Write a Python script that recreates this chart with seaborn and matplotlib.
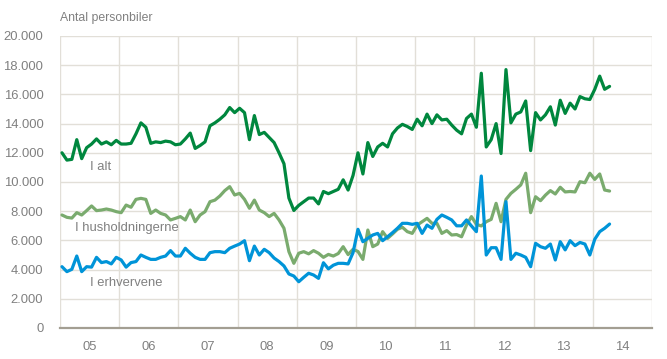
import numpy as np
import pandas as pd
import matplotlib
matplotlib.use("Agg")
import matplotlib.pyplot as plt
import seaborn as sns
from matplotlib.ticker import FuncFormatter, FixedLocator

# Monthly registrations, Jan 2005 - Apr 2014
i_alt = [
    12000, 11500, 11550, 12900, 11600, 12350, 12600, 12950, 12600, 12750, 12550, 12850,
    12600, 12600, 12650, 13300, 14050, 13750, 12650, 12750, 12700, 12800, 12750, 12550,
    12600, 12950, 13350, 12300, 12500, 12750, 13850, 14050, 14300, 14600, 15100, 14750,
    15050, 14750, 12900, 14550, 13250, 13400, 13050, 12700, 12000, 11250, 8900, 8050,
    8400, 8650, 8900, 8900, 8500, 9350, 9200, 9350, 9500, 10150, 9450, 10450,
    12000, 10550, 12700, 11750, 12400, 12650, 12400, 13300, 13700, 13950, 13800, 13600,
    14300, 13850, 14650, 14000, 14600, 14250, 14300, 13900, 13550, 13300, 14350, 14650,
    13750, 17450, 12400, 12900, 14000, 11950, 17700, 14050, 14650, 14800, 15550, 12150,
    14750, 14250, 14600, 15150, 13900, 15600, 14700, 15400, 15000, 15850, 15700, 15650,
    16350, 17250, 16350, 16550,
]
husholdninger = [
    7740, 7580, 7530, 7900, 7740, 8040, 8360, 8040, 8080, 8150, 8080, 7970,
    7900, 8420, 8270, 8810, 8880, 8810, 7850, 8080, 7850, 7740, 7400, 7510,
    7630, 7400, 8080, 7280, 7740, 7970, 8650, 8760, 9040, 9410, 9680, 9110,
    9220, 8810, 8200, 8760, 8080, 7900, 7630, 7850, 7400, 6830, 5230, 4430,
    5120, 5230, 5080, 5300, 5120, 4840, 5040, 4930, 5100, 5570, 5030, 5390,
    5240, 4700, 6710, 5570, 5750, 6600, 6140, 6440, 6760, 6900, 6600, 6480,
    7050, 7280, 7510, 7170, 7170, 6480, 6670, 6370, 6400, 6250, 7050, 7630,
    7100, 6990, 7280, 7440, 8540, 7280, 8810, 9220, 9500, 9800, 10600, 7900,
    8990, 8720, 9100, 9410, 9180, 9640, 9320, 9350, 9320, 10020, 9950, 10600,
    10180, 10550, 9450, 9380,
]
erhverv = [
    4200, 3860, 4020, 4930, 3860, 4200, 4170, 4840, 4480, 4550, 4390, 4840,
    4660, 4170, 4480, 4550, 5000, 4840, 4700, 4700, 4840, 4930, 5300, 4930,
    4930, 5460, 5120, 4840, 4700, 4700, 5160, 5230, 5230, 5160, 5460, 5610,
    5750, 5980, 4610, 5610, 5000, 5390, 5160, 4790, 4550, 4250, 3700, 3560,
    3170, 3470, 3750, 3630, 3400, 4470, 4050, 4300, 4430, 4430, 4390, 5160,
    6760, 5910, 6140, 6370, 6480, 5980, 6250, 6530, 6830, 7170, 7170, 7100,
    7170, 6480, 7050, 6830, 7440, 7740, 7580, 7400, 7000, 7000, 7400, 6990,
    6600, 10410, 5000, 5500, 5500, 4700, 8650, 4700, 5120, 5000, 4840, 4200,
    5800, 5570, 5460, 5750, 4660, 5910, 5350, 5980, 5640, 5860, 5750, 5000,
    6080, 6600, 6830, 7120,
]
serier = ["I alt", "I husholdningerne", "I erhvervene"]
farver = ["#00873e", "#7aab6e", "#0094d8"]
aar = list(range(2005, 2015))
aar_labels = ["05", "06", "07", "08", "09", "10", "11", "12", "13", "14"]

maaned = np.arange(len(i_alt))
tid = 2005 + (maaned + 0.4) / 12

df = pd.concat([
    pd.DataFrame({"tid": tid, "antal": vals, "serie": navn})
    for navn, vals in zip(serier, [i_alt, husholdninger, erhverv])
])

sns.set_theme(style="white")
plt.rcParams["font.family"] = ["Liberation Sans", "DejaVu Sans"]

grey = "#808080"
fs = 8.8
fig = plt.figure(figsize=(6.67, 3.59), dpi=100)
ax = fig.add_axes([60 / 667, 31 / 359, 592 / 667, 292 / 359])

sns.lineplot(data=df, x="tid", y="antal", hue="serie", hue_order=serier,
             palette=farver, linewidth=2.3, legend=False, ax=ax)

ax.set_xlim(2005, 2015)
ax.set_ylim(0, 20000)
ax.set_yticks(range(0, 20001, 2000))
ax.yaxis.set_major_formatter(FuncFormatter(lambda v, p: f"{int(v):,}".replace(",", ".")))
ax.xaxis.set_major_locator(FixedLocator(aar + [2015]))
ax.xaxis.set_minor_locator(FixedLocator([a + 0.5 for a in aar]))
ax.set_xticklabels([])
ax.set_xticklabels(aar_labels, minor=True)
ax.grid(True, which="major", color="#e2dfd8", linewidth=1)
ax.set_axisbelow(True)
ax.tick_params(axis="both", which="both", length=0, colors=grey, labelsize=fs + 0.6)
ax.tick_params(axis="y", pad=12)
ax.tick_params(axis="x", which="minor", pad=9)
ax.set_xlabel("")
ax.set_ylabel("")
for side in ["left", "right", "top"]:
    ax.spines[side].set_visible(False)
ax.spines["bottom"].set_color("#a39e92")
ax.spines["bottom"].set_linewidth(1.6)

fig.text(60 / 667, 1 - 18 / 359, "Antal personbiler", color=grey, fontsize=fs,
         va="center", ha="left")

ax.text(2005 + 6.1 / 12, 11000, "I alt", color=grey, fontsize=fs + 0.6, va="center")
ax.text(2005 + 3.1 / 12, 6850, "I husholdningerne", color=grey, fontsize=fs + 0.6, va="center")
ax.text(2005 + 6.1 / 12, 3080, "I erhvervene", color=grey, fontsize=fs + 0.6, va="center")

fig.savefig("out.png", dpi=100)
plt.close(fig)
